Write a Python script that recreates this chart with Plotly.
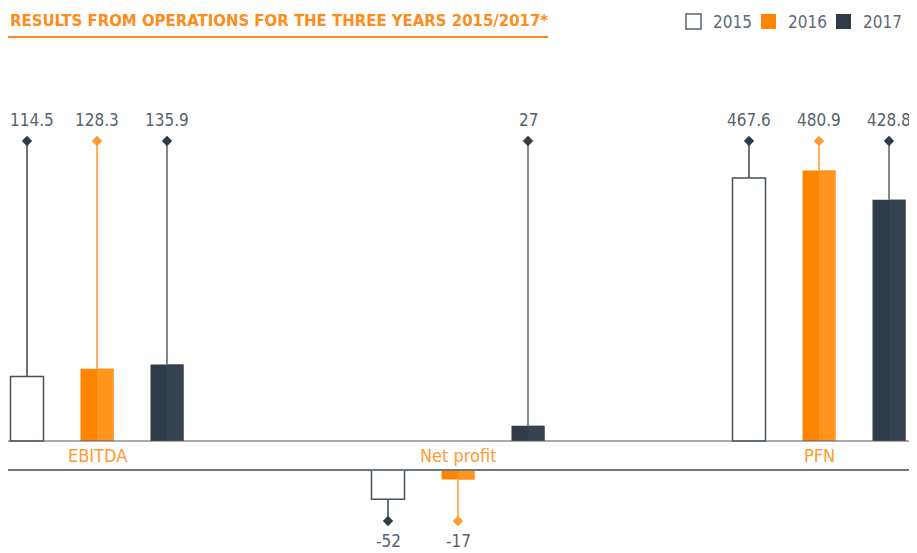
import plotly.graph_objects as go

categories = ["EBITDA", "Net profit", "PFN"]
years = ["2015", "2016", "2017"]
values_2015 = [114.5, -52, 467.6]
values_2016 = [128.3, -17, 480.9]
values_2017 = [135.9, 27, 428.8]
labels_2015 = ["114.5", "-52", "467.6"]
labels_2016 = ["128.3", "-17", "480.9"]
labels_2017 = ["135.9", "27", "428.8"]

series = [
    (years[0], values_2015, labels_2015),
    (years[1], values_2016, labels_2016),
    (years[2], values_2017, labels_2017),
]

# ---- styling (page is offset 8px by body margin) ----
W, H = 917, 553
OFF = 8
BASE_PX = 441 - OFF
PX_PER_UNIT = 0.5625
Y_TOP = BASE_PX / PX_PER_UNIT
Y_BOT = -(H - BASE_PX) / PX_PER_UNIT
GAP = 29 / PX_PER_UNIT
POS_LEVEL = (441 - 141) / PX_PER_UNIT
NEG_LEVEL = -(521 - 441) / PX_PER_UNIT
TEXT_SHIFT_POS = 21 / PX_PER_UNIT
TEXT_SHIFT_NEG = 20 / PX_PER_UNIT
GROUP_PX = 361
G0 = 97 - OFF
X_LEFT = -G0 / GROUP_PX
X_RIGHT = (W - G0) / GROUP_PX
BAR_W = 33 / GROUP_PX
STEP = 70 / GROUP_PX

fill_main = ["#FFFFFF", "#FF8500", "#2F3C47"]
fill_light = [None, "#FF951F", "#36434E"]
outline = ["#46525C", "#FF8500", "#2F3C47"]
line_col = ["#3A4650", "#FF9A2E", "#56636E"]
marker_col = ["#2F3C47", "#FF9A2E", "#2F3C47"]
LABEL_FONT = "DejaVu Sans Condensed, Roboto, sans-serif"
TEXT_GREY = "#57626C"
ORANGE = "#FF8C1A"

fig = go.Figure()
xs = list(range(len(categories)))

for i, (yr, vals, labs) in enumerate(series):
    off = (i - 1) * STEP
    bases = [(-GAP if v < 0 else 0) for v in vals]
    fig.add_trace(go.Bar(
        name=yr, x=xs, y=vals, base=bases,
        width=BAR_W, offset=off - BAR_W / 2,
        marker=dict(color=fill_main[i], line=dict(color=outline[i], width=1.5 if i == 0 else 0)),
        showlegend=False, hoverinfo="skip",
    ))
    if fill_light[i]:
        fig.add_trace(go.Bar(
            x=xs, y=vals, base=bases,
            width=BAR_W / 2, offset=off,
            marker=dict(color=fill_light[i], line=dict(width=0)),
            showlegend=False, hoverinfo="skip",
        ))
    lx, ly = [], []
    mx, my = [], []
    for g, v in enumerate(vals):
        x = g + off
        if v >= 0:
            start, end, ts = v, POS_LEVEL, TEXT_SHIFT_POS
        else:
            start, end, ts = v - GAP, NEG_LEVEL, -TEXT_SHIFT_NEG
        lx += [x, x, None]
        ly += [start, end, None]
        mx.append(x); my.append(end)
        # value label (keep the left-most one inside the page)
        near_left = (x - X_LEFT) * GROUP_PX < 24
        fig.add_annotation(
            x=X_LEFT if near_left else x, y=end + ts, text=labs[g], showarrow=False,
            xanchor="left" if near_left else "center", yanchor="middle",
            font=dict(family=LABEL_FONT, size=17, color=TEXT_GREY),
        )
    fig.add_trace(go.Scatter(
        x=lx, y=ly, mode="lines", line=dict(color=line_col[i], width=1.5),
        showlegend=False, hoverinfo="skip",
    ))
    fig.add_trace(go.Scatter(
        x=mx, y=my, mode="markers",
        marker=dict(symbol="diamond", size=8, color=marker_col[i]),
        showlegend=False, hoverinfo="skip",
    ))

# base lines
x0 = X_LEFT
x1 = X_LEFT + (913 - OFF) / GROUP_PX
fig.add_shape(type="line", x0=x0, x1=x1, y0=0, y1=0, line=dict(color="#4E5A64", width=1.2), layer="above")
fig.add_shape(type="line", x0=x0, x1=x1, y0=-GAP, y1=-GAP, line=dict(color="#6E7880", width=2.2), layer="above")

# category labels
for g, c in enumerate(categories):
    fig.add_annotation(x=g, y=-GAP / 2, text=c, showarrow=False,
                       font=dict(family=LABEL_FONT, size=18, color="#FF9A30"),
                       xanchor="center", yanchor="middle")

# title
fig.add_annotation(xref="paper", yref="paper", x=0, y=1 - 12 / H,
                   text="<b>RESULTS FROM OPERATIONS FOR THE THREE YEARS 2015/2017*</b>",
                   showarrow=False, xanchor="left", yanchor="middle",
                   font=dict(family=LABEL_FONT, size=16.6, color=ORANGE))
fig.add_shape(type="line", xref="paper", yref="paper", x0=0, x1=540 / W,
              y0=1 - 29 / H, y1=1 - 29 / H, line=dict(color=ORANGE, width=2))

# legend (drawn)
leg_x = [678, 753, 828]
for i, yr in enumerate(years):
    lx0 = leg_x[i] / W
    fig.add_shape(type="rect", xref="paper", yref="paper",
                  x0=lx0, x1=(leg_x[i] + 15) / W, y0=1 - 21 / H, y1=1 - 6 / H,
                  fillcolor=fill_main[i],
                  line=dict(color="#5A6670" if i == 0 else fill_main[i], width=1.5 if i == 0 else 0))
    fig.add_annotation(xref="paper", yref="paper", x=(leg_x[i] + 25) / W, y=1 - 14 / H,
                       text=yr, showarrow=False, xanchor="left", yanchor="middle",
                       font=dict(family=LABEL_FONT, size=17, color="#5F6A74"))

fig.update_layout(
    width=W, height=H,
    margin=dict(l=0, r=0, t=0, b=0),
    paper_bgcolor="white", plot_bgcolor="white",
    barmode="overlay",
    xaxis=dict(range=[X_LEFT, X_RIGHT], visible=False, fixedrange=True),
    yaxis=dict(range=[Y_BOT, Y_TOP], visible=False, fixedrange=True),
    showlegend=False,
)

fig.write_html("out.html")
